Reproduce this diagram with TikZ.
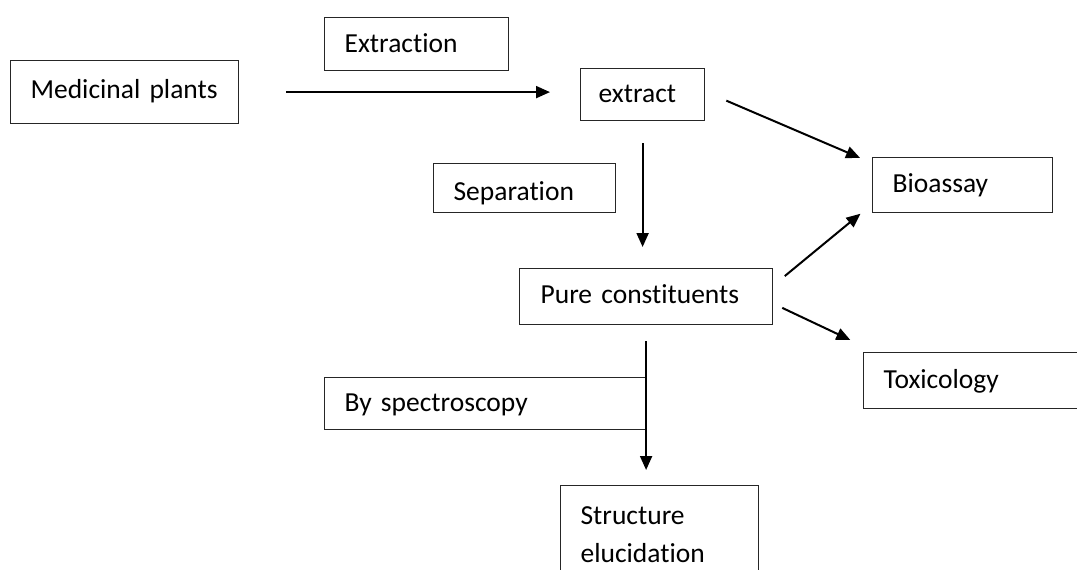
\documentclass[tikz,border=0pt]{standalone}
\usepackage{fontspec}
\setmainfont{Carlito}[Ligatures={NoCommon}, WordSpace=0.65]
\usetikzlibrary{arrows.meta}

\begin{document}
\begin{tikzpicture}[
		x=1pt, y=-1pt,
		>={Triangle[length=14pt,width=12pt]},
		every node/.style={
			draw=black!85,
			line width=1.2pt,
			anchor=north west,
			align=left,
			inner xsep=20pt,
			inner ysep=0pt,
			text height=19pt,
			text depth=7pt,
			font=\fontsize{27.5}{38}\selectfont
		}
		]
		
		\useasboundingbox (0,0) rectangle (1077,570);
		\clip (0,0) rectangle (1077,570);
		
		%--------------------------------------------------
		% Nodes
		%--------------------------------------------------
		
		\node (plants) [text width=188pt, minimum height=63pt] at (10,60)
		{Medicinal plants};
		
		\node (lblextr) [text width=144pt, minimum height=53pt, text height=24pt] at (324,17)
		{Extraction};
		
		\node (extract) [text width=88pt, inner xsep=18pt, minimum height=52pt, text height=23pt] at (580,68)
		{extract};
		
		\node (lblsep) [text width=142pt, minimum height=49pt, text height=32pt] at (433,163)
		{Separation};
		
		\node (pure) [text width=211pt, inner xsep=21pt, minimum height=56pt, text height=21pt] at (519,268)
		{Pure constituents};
		
		\node (bio) [text width=140pt, minimum height=55pt, text height=21pt] at (872,157)
		{Bioassay};
		
		\node (tox) [text width=200pt, minimum height=56pt, text height=23pt] at (863,352)
		{Toxicology};
		
		\node (lblspec) [text width=281pt, minimum height=52pt, text height=23pt] at (324,377)
		{By spectroscopy};
		
		\node (struct) [text width=158pt, text depth=45pt, inner ysep=20pt] at (560,485)
		{Structure\\elucidation};
		
		%--------------------------------------------------
		% Connections
		%--------------------------------------------------
		
		\draw[->,line width=2pt,shorten <=47pt,shorten >=30pt] (plants.east) -- (plants.east -| extract.west);
		
		\draw[->,line width=2pt,shorten <=23pt,shorten >=13pt] ([yshift=3pt]extract.east) -- ([yshift=-6pt]bio.north west);
		
		\draw[->,line width=2pt,shorten <=22pt,shorten >=21pt] (extract.south) -- (extract.south |- pure.north);
		
		\draw[->,line width=2pt,shorten <=15pt,shorten >=15pt] ([yshift=11pt]pure.east) -- ([yshift=9pt]bio.south west);
		
		\draw[->,line width=2pt,shorten <=10pt,shorten >=14pt] ([yshift=-7pt]pure.east) -- ([yshift=6pt]tox.north west);
		
		\draw[->,line width=2pt,shorten <=16pt,shorten >=15pt] (pure.south) -- (pure.south |- struct.north);
		
	\end{tikzpicture}
\end{document}
